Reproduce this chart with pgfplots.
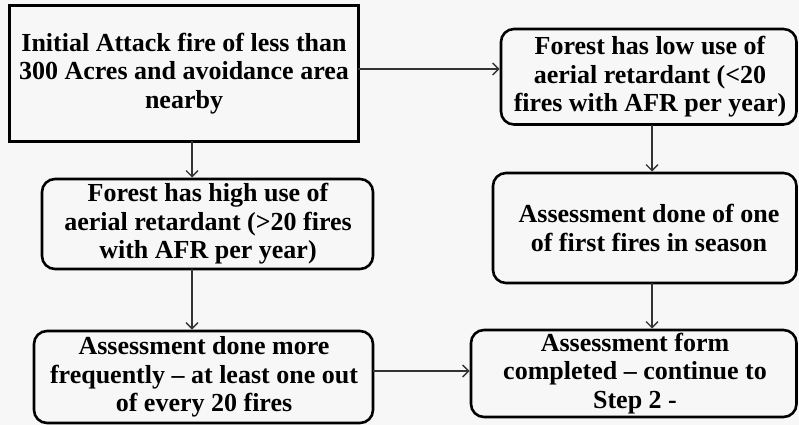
\documentclass[border=0pt]{standalone}
\usepackage{pgfplots}
\pgfplotsset{compat=1.18}
\usetikzlibrary{arrows.meta}
\usepackage{fontspec}
\setmainfont{Liberation Serif}
\tikzset{
  box/.style={line width=2.6bp, rounded corners=13bp, black},
  arr/.style={line width=1.3bp, black!80, -{Straight Barb[length=6bp,width=12bp]}},
  lbl/.style={align=center, font=\bfseries\fontsize{26bp}{28.5bp}\selectfont, inner sep=0pt},
}
\begin{document}
\begin{tikzpicture}
\begin{axis}[
  scale only axis, width=799bp, height=425bp,
  xmin=0, xmax=799, ymin=0, ymax=425, y dir=reverse,
  hide axis, clip=false,
]
% background
\addplot[fill=black!3, draw=none] coordinates {(0,0) (799,0) (799,425) (0,425)};
% boxes
\addplot[line width=3bp, black] coordinates {(183,6) (358,6) (358,141) (9,141) (9,6) (183,6)};
\addplot[box] coordinates {(648,29) (796.5,29) (796.5,124.5) (501,124.5) (501,29) (648,29)};
\addplot[box] coordinates {(207,179) (373,179) (373,269) (42,269) (42,179) (207,179)};
\addplot[box] coordinates {(645,173) (796.5,173) (796.5,283) (493,283) (493,173) (645,173)};
\addplot[box] coordinates {(203,331) (373,331) (373,423) (34,423) (34,331) (203,331)};
\addplot[box] coordinates {(634,330) (796.5,330) (796.5,417) (471,417) (471,330) (634,330)};
% arrows
\addplot[arr] coordinates {(358,69) (499.5,69)};
\addplot[arr] coordinates {(192,141) (192,177.5)};
\addplot[arr] coordinates {(652,124.5) (652,171.5)};
\addplot[arr] coordinates {(192,269) (192,329.5)};
\addplot[arr] coordinates {(652,283) (652,328.5)};
\addplot[arr] coordinates {(373,371) (469.5,371)};
% labels
\node[lbl] at (axis cs:184,73.5) {Initial Attack fire of less than\\300 Acres and avoidance area\\nearby};
\node[lbl] at (axis cs:650,77) {Forest has low use of\\aerial retardant (<20\\fires with AFR per year)};
\node[lbl] at (axis cs:208,224) {Forest has high use of\\aerial retardant (>20 fires\\with AFR per year)};
\node[lbl] at (axis cs:649,228) {Assessment done of one\\of first fires in season};
\node[lbl] at (axis cs:204,377) {Assessment done more\\frequently – at least one out\\of every 20 fires};
\node[lbl] at (axis cs:635,373.5) {Assessment form\\completed – continue to\\Step 2 -};
\end{axis}
\end{tikzpicture}
\end{document}
